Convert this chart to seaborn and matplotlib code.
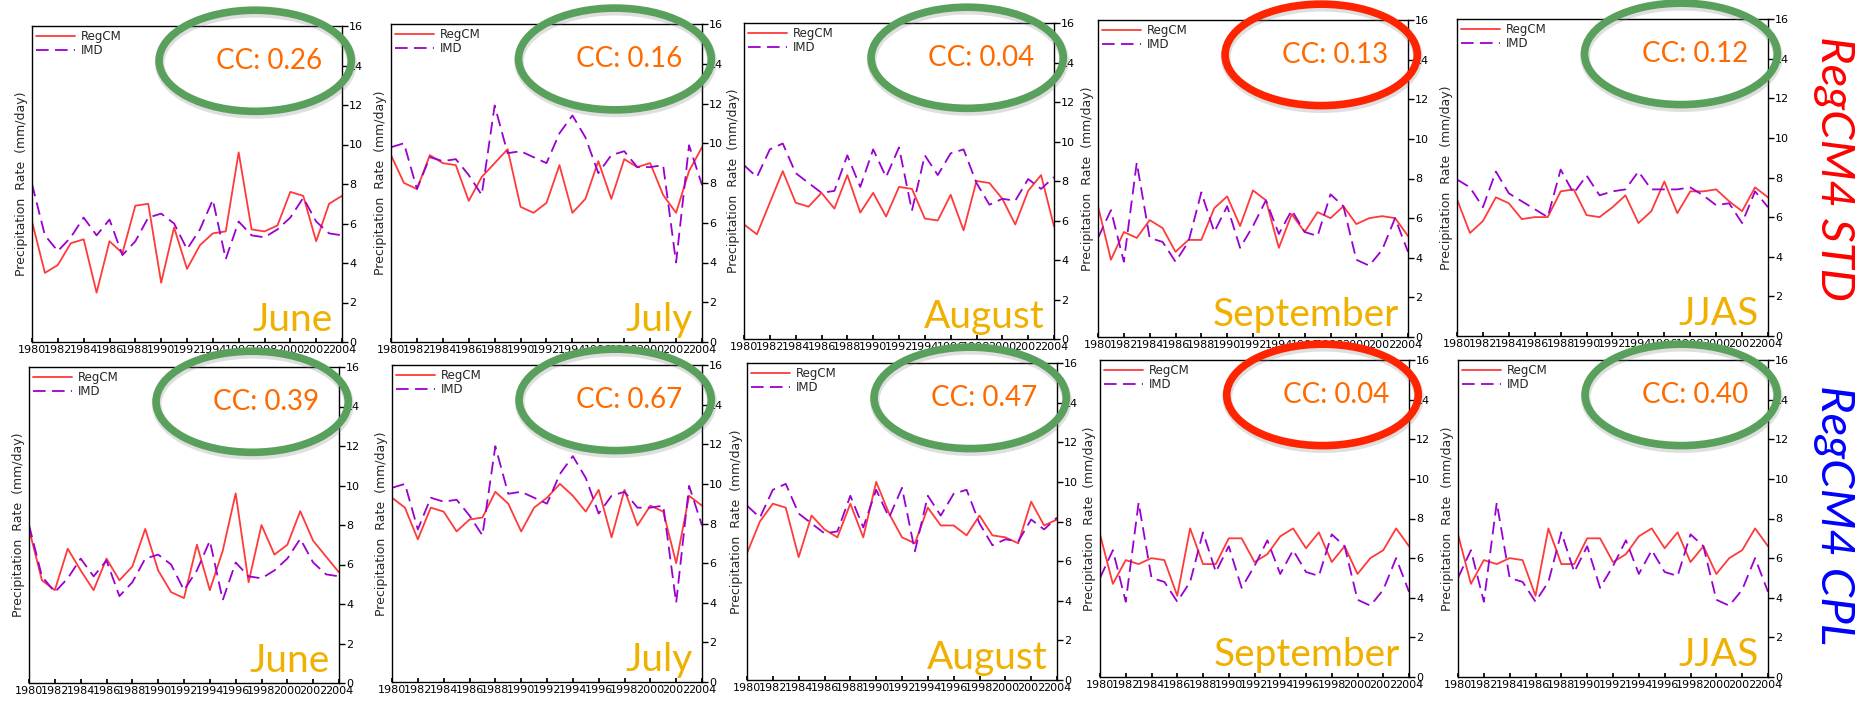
import seaborn as sns
import matplotlib.pyplot as plt
from matplotlib.patches import Ellipse

years = list(range(1980, 2005))

# IMD observations (same in both rows)
jun_imd = [8.0, 5.4, 4.6, 5.3, 6.3, 5.4, 6.2, 4.4, 5.1, 6.3, 6.5, 6.0, 4.7, 5.7, 7.2, 4.2, 6.1, 5.4, 5.3, 5.7, 6.3, 7.3, 6.1, 5.5, 5.4]
jul_imd = [9.8, 10.0, 7.7, 9.3, 9.1, 9.2, 8.4, 7.4, 11.9, 9.5, 9.6, 9.3, 9.0, 10.5, 11.4, 10.3, 8.5, 9.4, 9.6, 8.8, 8.8, 8.9, 4.0, 9.9, 7.9]
aug_imd = [8.8, 8.2, 9.6, 9.9, 8.4, 7.9, 7.4, 7.5, 9.3, 7.7, 9.6, 8.2, 9.7, 6.5, 9.3, 8.3, 9.4, 9.6, 7.9, 6.8, 7.1, 7.0, 8.1, 7.6, 8.2]
sep_imd = [5.0, 6.4, 3.8, 8.8, 5.0, 4.8, 3.8, 4.8, 7.3, 5.3, 6.6, 4.5, 5.6, 6.9, 5.2, 6.4, 5.3, 5.1, 7.2, 6.6, 3.9, 3.6, 4.4, 6.0, 4.3]
jjas_imd = [7.9, 7.5, 6.5, 8.3, 7.2, 6.8, 6.4, 6.0, 8.4, 7.2, 8.1, 7.1, 7.3, 7.4, 8.3, 7.4, 7.4, 7.4, 7.5, 7.1, 6.6, 6.7, 5.7, 7.3, 6.5]

# RegCM4 STD
jun_std = [6.1, 3.5, 3.9, 5.0, 5.2, 2.5, 5.1, 4.5, 6.9, 7.0, 3.0, 5.8, 3.7, 4.9, 5.5, 5.6, 9.6, 5.7, 5.6, 5.9, 7.6, 7.4, 5.1, 7.0, 7.4]
jul_std = [9.4, 8.0, 7.7, 9.4, 9.0, 8.9, 7.1, 8.3, 9.0, 9.7, 6.8, 6.5, 7.0, 8.9, 6.5, 7.2, 9.1, 7.2, 9.2, 8.8, 9.0, 7.4, 6.5, 8.6, 9.8]
aug_std = [5.8, 5.3, 6.9, 8.5, 6.9, 6.7, 7.4, 6.6, 8.3, 6.4, 7.4, 6.2, 7.7, 7.6, 6.1, 6.0, 7.3, 5.5, 8.0, 7.9, 7.1, 5.8, 7.5, 8.3, 5.7]
sep_std = [6.6, 3.9, 5.3, 5.0, 5.9, 5.5, 4.3, 4.9, 4.9, 6.5, 7.1, 5.6, 7.4, 6.9, 4.5, 6.2, 5.3, 6.3, 6.0, 6.6, 5.7, 6.0, 6.1, 6.0, 5.1]
jjas_std = [6.9, 5.2, 5.8, 7.0, 6.7, 5.9, 6.0, 6.0, 7.3, 7.4, 6.1, 6.0, 6.5, 7.1, 5.7, 6.3, 7.8, 6.2, 7.3, 7.3, 7.4, 6.8, 6.3, 7.5, 7.0]

# RegCM4 CPL
jun_cpl = [7.8, 5.2, 4.7, 6.8, 5.7, 4.7, 6.3, 5.2, 5.9, 7.8, 5.7, 4.6, 4.3, 7.0, 4.7, 6.7, 9.6, 5.1, 8.0, 6.5, 7.0, 8.7, 7.2, 6.4, 5.6]
jul_cpl = [9.3, 8.8, 7.2, 8.8, 8.6, 7.6, 8.2, 8.3, 9.6, 9.0, 7.6, 8.8, 9.3, 10.0, 9.4, 8.6, 9.7, 7.3, 9.7, 7.9, 8.9, 8.6, 6.0, 9.4, 8.9]
aug_cpl = [6.4, 8.0, 8.9, 8.7, 6.2, 8.3, 7.6, 7.2, 8.9, 7.2, 10.0, 8.4, 7.2, 6.9, 8.7, 7.8, 7.8, 7.3, 8.3, 7.3, 7.2, 6.9, 9.0, 7.8, 8.1]
sep_cpl = [7.2, 4.7, 5.9, 5.7, 6.0, 5.9, 4.1, 7.5, 5.7, 5.7, 7.0, 7.0, 5.8, 6.2, 7.1, 7.5, 6.5, 7.3, 5.8, 6.6, 5.2, 6.0, 6.4, 7.5, 6.6]
# the JJAS CPL panel in the figure repeats the September curves
jjas_cpl = sep_cpl
jjas_cpl_imd = sep_imd

months = ["June", "July", "August", "September", "JJAS"]
std_model = [jun_std, jul_std, aug_std, sep_std, jjas_std]
cpl_model = [jun_cpl, jul_cpl, aug_cpl, sep_cpl, jjas_cpl]
std_obs = [jun_imd, jul_imd, aug_imd, sep_imd, jjas_imd]
cpl_obs = [jun_imd, jul_imd, aug_imd, sep_imd, jjas_cpl_imd]
std_cc = ["0.26", "0.16", "0.04", "0.13", "0.12"]
cpl_cc = ["0.39", "0.67", "0.47", "0.04", "0.40"]

sns.set_theme(style="white")
plt.rcParams["font.family"] = ["DejaVu Sans"]
plt.rcParams["axes.edgecolor"] = "black"

W, H = 1872, 701
fig = plt.figure(figsize=(W / 100, H / 100), dpi=100)

# panel boxes in pixels: left, right, top, bottom
top_boxes = [(32, 342, 26, 342), (391, 702, 24, 342), (744, 1054, 23, 339),
             (1098, 1408, 20, 337), (1457, 1768, 19, 336)]
bot_boxes = [(29, 339, 367, 683), (392, 702, 365, 682), (747, 1057, 363, 680),
             (1100, 1409, 360, 677), (1458, 1768, 360, 677)]

RED = "#ff3a3a"
PURPLE = "#9a00d0"
GREEN = "#58a05c"
RING_RED = "#ff2400"


def panel(box, model, obs, month, cc):
    l, r, t, b = box
    ax = fig.add_axes([l / W, 1 - b / H, (r - l) / W, (b - t) / H])
    sns.lineplot(x=years, y=model, ax=ax, color=RED, lw=1.3, label="RegCM")
    sns.lineplot(x=years, y=obs, ax=ax, color=PURPLE, lw=1.3,
                 linestyle=(0, (7, 3.5)), label="IMD")
    ax.set_xlim(1980, 2004)
    ax.set_ylim(0, 16)
    ax.set_xticks(range(1980, 2005, 2))
    ax.set_yticks(range(0, 17, 2))
    ax.yaxis.tick_right()
    ax.yaxis.set_label_position("left")
    ax.tick_params(axis="y", right=True, left=False, direction="out",
                   length=4, width=1, labelsize=8, pad=1, colors="black")
    ax.tick_params(axis="x", bottom=True, direction="in", length=3,
                   labelsize=8, pad=2, colors="black")
    ax.set_xlabel("")
    ax.set_ylabel("Precipitation  Rate  (mm/day)", fontsize=9, labelpad=3)
    for s in ax.spines.values():
        s.set_linewidth(1)
        s.set_color("black")
    ax.legend(loc="upper left", frameon=False, fontsize=8.5, handlelength=3.3,
              borderaxespad=0.15, labelspacing=0.1, borderpad=0.2,
              handletextpad=0.5)
    ring = GREEN if month != "September" else RING_RED
    # soft drop shadow under the ring
    shadow = Ellipse((0.722, 0.882), 0.62, 0.32, transform=ax.transAxes,
                     fill=False, ec="gray", lw=7, alpha=0.25, clip_on=False,
                     zorder=9)
    ax.add_patch(shadow)
    ell = Ellipse((0.72, 0.89), 0.62, 0.32, transform=ax.transAxes,
                  fill=False, ec=ring, lw=5.5, clip_on=False, zorder=10)
    ax.add_patch(ell)
    ax.text(0.935, 0.89, "CC: " + cc, transform=ax.transAxes, ha="right",
            va="center", fontsize=20, color="#ff6a00", family="Lato",
            zorder=11)
    ax.text(0.97, 0.035, month, transform=ax.transAxes, ha="right",
            va="baseline", fontsize=28, color="#f0b000", family="Lato")
    return ax


for i in range(5):
    panel(top_boxes[i], std_model[i], std_obs[i], months[i], std_cc[i])
for i in range(5):
    panel(bot_boxes[i], cpl_model[i], cpl_obs[i], months[i], cpl_cc[i])

fig.text(1834 / W, 1 - 168 / H, "RegCM4 STD", rotation=270, ha="center",
         va="center", color="#ff0000", fontsize=34, family="Lato",
         style="italic")
fig.text(1834 / W, 1 - 515 / H, "RegCM4 CPL", rotation=270, ha="center",
         va="center", color="#0000ff", fontsize=34, family="Lato",
         style="italic")

fig.savefig("out.png", dpi=100, facecolor="white")
